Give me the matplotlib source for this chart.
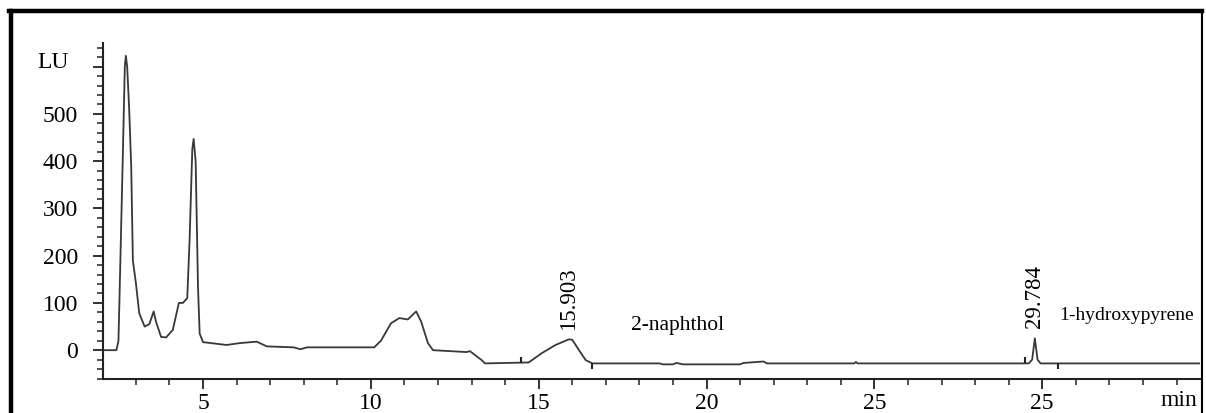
import matplotlib
matplotlib.use("Agg")
import matplotlib.pyplot as plt
from matplotlib.ticker import MultipleLocator
from matplotlib.lines import Line2D

# chromatogram trace (time in min, signal in LU)
time_min = [2.0, 2.42, 2.48, 2.51, 2.61, 2.67, 2.70, 2.74, 2.80, 2.86, 2.91,
            3.0, 3.1, 3.26, 3.4, 3.53, 3.6, 3.75, 3.9, 4.1, 4.28, 4.4, 4.53,
            4.6, 4.68, 4.72, 4.78, 4.85, 4.9, 5.0, 5.7, 6.1, 6.6, 6.9, 7.7,
            7.9, 8.1, 10.1, 10.3, 10.6, 10.85, 11.1, 11.35, 11.5, 11.7, 11.85,
            12.85, 12.95, 13.3, 13.4, 14.7, 15.1, 15.5, 15.9, 16.0, 16.2,
            16.4, 16.6, 18.6, 18.7, 19.0, 19.1, 19.3, 21.0, 21.1, 21.7, 21.8,
            24.4, 24.45, 24.5, 29.6, 29.7, 29.78, 29.86, 29.95, 34.7]
signal_lu = [0, 0, 20, 106, 410, 600, 623, 600, 510, 390, 190,
             142, 78, 50, 55, 82, 60, 28, 27, 43, 100, 100, 110,
             234, 425, 447, 400, 134, 35, 17, 11, 15, 18, 8, 6,
             2, 6, 6, 20, 57, 68, 65, 82, 60, 15, 0,
             -4, -2, -21, -28, -26, -6, 11, 23, 22, 0,
             -21, -28, -28, -30, -30, -27, -30, -30, -27, -24, -28,
             -28, -25, -28, -28, -20, 25, -20, -28, -28]

# integration marks (peak start / peak end)
peak_start = [14.46, 29.5]
peak_end = [16.6, 30.48]
baseline_lu = -28

# peak labels
peak_times = [15.903, 29.784]
peak_label_y = [42, 47]
compounds = ["2-naphthol", "1-hydroxypyrene"]
compound_x = [19.14, 30.5]
compound_y = [53, 74]

x_ticks = [5, 10, 15, 20, 25, 30]
x_tick_labels = ["5", "10", "15", "20", "25", "25"]
y_ticks = [0, 100, 200, 300, 400, 500, 600]
y_tick_labels = ["0", "100", "200", "300", "400", "500", ""]

plt.rcParams['font.family'] = ['Liberation Serif', 'DejaVu Serif']

fig = plt.figure(figsize=(12.06, 4.13), dpi=100)
ax = fig.add_axes([103 / 1206, 1 - 379 / 413, (1200 - 103) / 1206, (379 - 43) / 413])

ax.plot(time_min, signal_lu, color='#383838', lw=1.3)

# small integration ticks on the baseline
ax.vlines(peak_start, baseline_lu, baseline_lu + 13, color='#222222', lw=1.5)
ax.vlines(peak_end, baseline_lu - 11, baseline_lu, color='#222222', lw=1.5)

for t, y in zip(peak_times, peak_label_y):
    ax.text(t, y, f"{t:.3f}", rotation=90, ha='center', va='bottom', fontsize=16.5)
for name, x, y in zip(compounds, compound_x, compound_y):
    ha = 'center' if name == "2-naphthol" else 'left'
    ax.text(x, y, name, ha=ha, va='center', fontsize=15.5 if ha == 'center' else 14)

ax.set_xlim(2.02, 34.7)
ax.set_ylim(-61, 650)

ax.set_xticks(x_ticks)
ax.set_xticklabels(x_tick_labels)
ax.set_yticks(y_ticks)
ax.set_yticklabels(y_tick_labels)
ax.xaxis.set_minor_locator(MultipleLocator(1))
ax.yaxis.set_minor_locator(MultipleLocator(20))
ax.tick_params(which='major', length=7, width=1.3, labelsize=17, color='#222222')
ax.tick_params(axis='y', which='major', pad=11)
ax.tick_params(axis='x', which='major', pad=3)
ax.tick_params(which='minor', length=4, width=1.1, color='#222222')

for side in ['top', 'right']:
    ax.spines[side].set_visible(False)
for side in ['left', 'bottom']:
    ax.spines[side].set_linewidth(1.5)
    ax.spines[side].set_color('#222222')

fig.text(53 / 1206, 1 - 62 / 413, "LU", ha='center', va='center', fontsize=17)
fig.text(1197 / 1206, 1 - 401 / 413, "min", ha='right', va='center', fontsize=17)

# black frame round the figure
fx0, fy1, fx1 = 10.5 / 1206, 1 - 11 / 413, 1202 / 1206
fig.add_artist(Line2D([fx0, fx0], [0, fy1], color='black', lw=3.2))
fig.add_artist(Line2D([fx0 - 1.5 / 1206, fx1], [fy1, fy1], color='black', lw=3.2))
fig.add_artist(Line2D([fx1, fx1], [0, fy1], color='black', lw=1.5))

fig.savefig("out.png", dpi=100)
